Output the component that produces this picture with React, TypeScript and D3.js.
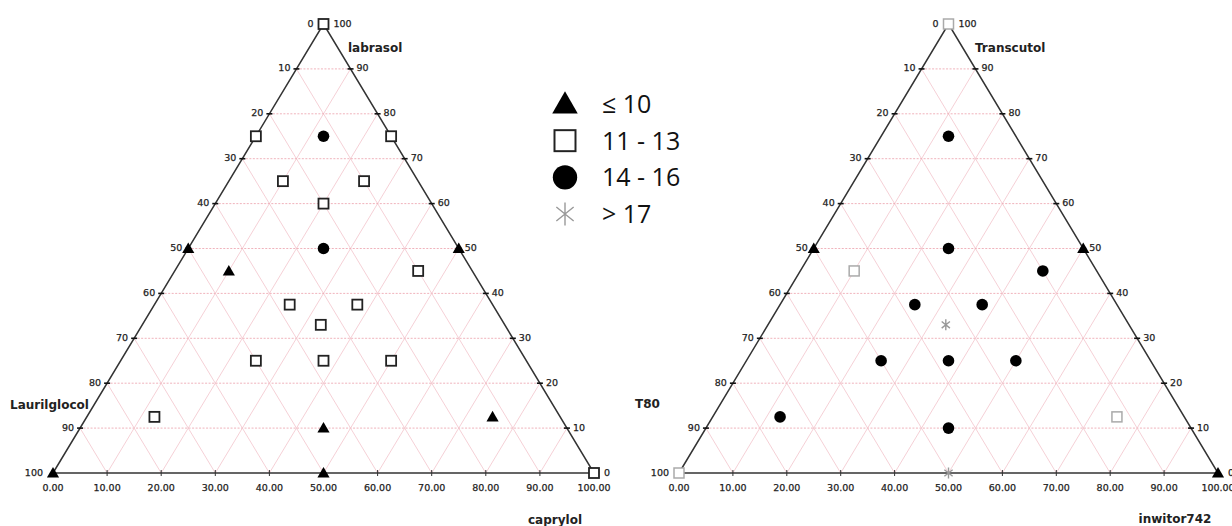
import React from 'react';
import * as d3 from 'd3';

// category keys and legend labels
const categories = ['le10', 'c11', 'c14', 'gt17'];
const legendLabels = ['≤ 10', '11 - 13', '14 - 16', '> 17'];

// [top component %, right component %, category]
const leftPoints: [number, number, string][] = [
  [100, 0, 'c11'], [0, 0, 'le10'], [0, 50, 'le10'], [0, 100, 'c11'],
  [75, 0, 'c11'], [75, 12.5, 'c14'], [75, 25, 'c11'],
  [65, 10, 'c11'], [65, 25, 'c11'], [60, 20, 'c11'],
  [50, 0, 'le10'], [50, 25, 'c14'], [50, 50, 'le10'],
  [45, 10, 'le10'], [45, 45, 'c11'],
  [37.5, 25, 'c11'], [37.5, 37.5, 'c11'], [33, 33, 'c11'],
  [25, 25, 'c11'], [25, 37.5, 'c11'], [25, 50, 'c11'],
  [12.5, 12.5, 'c11'], [10, 45, 'le10'], [12.5, 75, 'le10'],
];

const rightPoints: [number, number, string][] = [
  [100, 0, 'c11'], [0, 0, 'c11'], [0, 100, 'le10'], [0, 50, 'gt17'],
  [75, 12.5, 'c14'], [50, 0, 'le10'], [50, 25, 'c14'], [50, 50, 'le10'],
  [45, 10, 'c11'], [45, 45, 'c14'],
  [37.5, 25, 'c14'], [37.5, 37.5, 'c14'], [33, 33, 'gt17'],
  [25, 25, 'c14'], [25, 37.5, 'c14'], [25, 50, 'c14'],
  [12.5, 12.5, 'c14'], [10, 45, 'c14'], [12.5, 75, 'c11'],
];

const gridSteps = d3.range(10, 100, 10);
const edgeTicks = d3.range(0, 101, 10);
const bottomTickLabels = edgeTicks.map(v => v.toFixed(2));

const tickFont = { fontFamily: 'DejaVu Sans', fontSize: 9.5, fill: '#222', stroke: '#222', strokeWidth: 0.25 };
const titleFont = { fontFamily: 'DejaVu Sans', fontSize: 12, fontWeight: 700, fill: '#222' };

const asteriskPath = (s: number) =>
  `M0,${-s}L0,${s}M${-s * 0.75},${-s * 0.6}L${s * 0.75},${s * 0.6}M${s * 0.75},${-s * 0.6}L${-s * 0.75},${s * 0.6}`;

const Marker = ({ cat, x, y, scale = 1, light = false }: any) => {
  if (cat === 'le10') {
    const p = d3.symbol(d3.symbolTriangle, 64 * scale * scale)();
    return <path d={p || ''} transform={`translate(${x},${y + 1 * scale})`} fill="#000" />;
  }
  if (cat === 'c11') {
    const s = 10 * scale;
    return (
      <rect x={x - s / 2} y={y - s / 2} width={s} height={s} fill="#fff"
        stroke={light ? '#aaa' : '#222'} strokeWidth={light ? 1.5 : 1.8 * Math.min(scale, 1.1)} />
    );
  }
  if (cat === 'c14') {
    return <circle cx={x} cy={y} r={5.8 * scale} fill="#000" />;
  }
  return (
    <path d={asteriskPath(5.5 * scale)} transform={`translate(${x},${y})`}
      stroke="#999" strokeWidth={1.4} fill="none" />
  );
};

const Ternary = ({ x0, x1, baseY, apexY, points, top, left, right, lightSquares }: any) => {
  const xs = d3.scaleLinear().domain([0, 100]).range([x0, x1]);
  const ys = d3.scaleLinear().domain([0, 100]).range([baseY, apexY]);
  const px = (t: number, r: number) => xs(r + t / 2);
  const py = (t: number) => ys(t);

  return (
    <g>
      {/* grid */}
      {gridSteps.map(k => (
        <g key={`g${k}`}>
          <line x1={px(k, 0)} y1={py(k)} x2={px(k, 100 - k)} y2={py(k)}
            stroke="#eeaab4" strokeWidth={0.9} strokeDasharray="2 1.5" />
          <line x1={px(0, k)} y1={py(0)} x2={px(100 - k, k)} y2={py(100 - k)}
            stroke="#f3c4cb" strokeWidth={0.8} />
          <line x1={px(0, 100 - k)} y1={py(0)} x2={px(100 - k, 0)} y2={py(100 - k)}
            stroke="#f3c4cb" strokeWidth={0.8} />
        </g>
      ))}
      {/* frame */}
      <path d={`M${px(0, 0)},${py(0)}L${px(100, 0)},${py(100)}L${px(0, 100)},${py(0)}Z`}
        fill="none" stroke="#333" strokeWidth={1.5} />
      {/* edge ticks */}
      {edgeTicks.map(k => {
        const tl = 100 - k;
        const lx = px(tl, 0), ly = py(tl);
        const rx = px(k, 100 - k), ry = py(k);
        const corner = k === 0 || k === 100;
        const off = corner ? 10 : 6;
        return (
          <g key={`t${k}`}>
            {!corner && <line x1={lx - 3} x2={lx + 3} y1={ly} y2={ly} stroke="#111" strokeWidth={1.6} />}
            {!corner && <line x1={rx - 3} x2={rx + 3} y1={ry} y2={ry} stroke="#111" strokeWidth={1.6} />}
            <text x={lx - off} y={ly} textAnchor="end" dominantBaseline="middle" {...tickFont}>{k}</text>
            <text x={rx + off} y={ry} textAnchor="start" dominantBaseline="middle" {...tickFont}>{k}</text>
          </g>
        );
      })}
      {/* bottom axis */}
      {edgeTicks.map((v, i) => (
        <g key={`b${v}`}>
          {v > 0 && v < 100 && <line x1={xs(v)} x2={xs(v)} y1={baseY - 3} y2={baseY + 3} stroke="#333" strokeWidth={1} />}
          <text x={xs(v)} y={baseY + 15} textAnchor="middle" dominantBaseline="middle" {...tickFont}>{bottomTickLabels[i]}</text>
        </g>
      ))}
      {/* titles */}
      <text x={top.x} y={top.y} dominantBaseline="middle" {...titleFont}>{top.text}</text>
      <text x={left.x} y={left.y} dominantBaseline="middle" {...titleFont}>{left.text}</text>
      <text x={right.x} y={right.y} textAnchor="middle" dominantBaseline="middle" {...titleFont}>{right.text}</text>
      {/* points */}
      {points.map((p: [number, number, string], i: number) => (
        <Marker key={i} cat={p[2]} x={px(p[0], p[1])} y={py(p[0])} light={lightSquares} />
      ))}
    </g>
  );
};

export default function App() {
  const legendY = d3.scalePoint().domain(categories).range([104, 214]);
  return (
    <div style={{ position: 'absolute', left: 0, top: 0 }}>
      <svg width={1232} height={526} style={{ display: 'block', background: '#fff' }}>
        <Ternary x0={53} x1={594} baseY={473} apexY={24} points={leftPoints}
          top={{ x: 348, y: 48, text: 'labrasol' }}
          left={{ x: 10, y: 405, text: 'Laurilglocol' }}
          right={{ x: 555, y: 520, text: 'caprylol' }} />
        <Ternary x0={679} x1={1218} baseY={473} apexY={24} points={rightPoints} lightSquares
          top={{ x: 975, y: 48, text: 'Transcutol' }}
          left={{ x: 635, y: 404, text: 'T80' }}
          right={{ x: 1175, y: 519, text: 'inwitor742' }} />
        {/* legend */}
        {categories.map((c, i) => (
          <g key={c}>
            <Marker cat={c} x={565} y={legendY(c)!} scale={2.1} />
            <text x={602} y={legendY(c)! + 9} fontFamily="Open Sans" fontSize={25} fill="#111">{legendLabels[i]}</text>
          </g>
        ))}
      </svg>
    </div>
  );
}
